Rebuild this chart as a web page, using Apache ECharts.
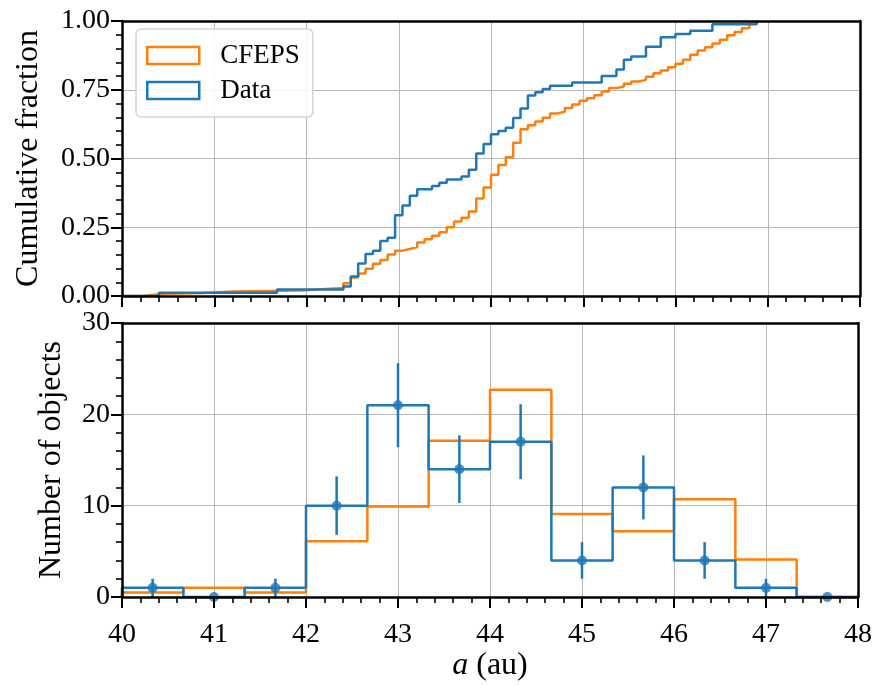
<!DOCTYPE html>
<html>
<head>
<meta charset="utf-8">
<script src="https://cdn.jsdelivr.net/npm/echarts@6/dist/echarts.min.js"></script>
<style>
  html, body { margin: 0; padding: 0; background: #ffffff; }
  #chart { width: 875px; height: 685px; }
</style>
</head>
<body>
<div id="chart"></div>
<script>
// ---- Top panel: cumulative fraction, given as step change points ----
// semi-major axis (au) where each step starts, and the fraction reached there
const cfepsCumA = [40.24, 40.32, 40.48, 40.88, 41.20, 41.76, 42.00, 42.16,
  42.40, 42.48, 42.56, 42.64, 42.72, 42.80, 42.88, 42.96, 43.04, 43.12,
  43.20, 43.28, 43.36, 43.44, 43.52, 43.60, 43.68, 43.76, 43.84, 43.92,
  44.00, 44.08, 44.16, 44.24, 44.32, 44.40, 44.48, 44.56, 44.64, 44.72,
  44.80, 44.88, 44.96, 45.04, 45.12, 45.20, 45.28, 45.36, 45.44, 45.52,
  45.60, 45.68, 45.76, 45.84, 45.92, 46.00, 46.08, 46.16, 46.24, 46.32,
  46.40, 46.48, 46.56, 46.64, 46.72, 46.80, 46.88];
const cfepsCumF = [0.004, 0.008, 0.011, 0.016, 0.019, 0.021, 0.025, 0.029,
  0.046, 0.067, 0.082, 0.099, 0.117, 0.131, 0.151, 0.165, 0.171, 0.178,
  0.195, 0.206, 0.219, 0.232, 0.250, 0.271, 0.285, 0.307, 0.355, 0.395,
  0.441, 0.476, 0.505, 0.557, 0.606, 0.621, 0.635, 0.648, 0.664, 0.670,
  0.684, 0.696, 0.710, 0.719, 0.730, 0.744, 0.756, 0.762, 0.772, 0.780,
  0.786, 0.797, 0.810, 0.820, 0.832, 0.845, 0.859, 0.877, 0.893, 0.905,
  0.918, 0.932, 0.948, 0.960, 0.974, 0.990, 1.000];

const dataCumA = [40.40, 41.68, 42.40, 42.48, 42.56, 42.64, 42.72, 42.80,
  42.88, 42.96, 43.04, 43.12, 43.20, 43.36, 43.44, 43.52, 43.68, 43.76,
  43.84, 43.92, 44.00, 44.08, 44.16, 44.24, 44.32, 44.40, 44.48, 44.56,
  44.64, 44.88, 45.20, 45.36, 45.44, 45.52, 45.68, 45.84, 46.00, 46.16,
  46.40, 46.88];
const dataCumF = [0.012, 0.024, 0.035, 0.071, 0.118, 0.153, 0.165, 0.200,
  0.212, 0.294, 0.329, 0.365, 0.388, 0.400, 0.412, 0.424, 0.435, 0.459,
  0.518, 0.553, 0.588, 0.600, 0.612, 0.647, 0.682, 0.729, 0.741, 0.753,
  0.765, 0.776, 0.800, 0.824, 0.859, 0.871, 0.906, 0.941, 0.953, 0.965,
  0.988, 1.000];

// ---- Bottom panel: histogram of objects per bin ----
const binEdges = [40, 40.667, 41.333, 42, 42.667, 43.333, 44, 44.667, 45.333, 46, 46.667, 47.333, 48];
const binCenters = [40.333, 41, 41.667, 42.333, 43, 43.667, 44.333, 45, 45.667, 46.333, 47, 47.667];
const cfepsCounts = [0.5, 1.0, 0.5, 6.1, 9.9, 17.1, 22.7, 9.1, 7.2, 10.7, 4.1, 0];
const dataCounts = [1, 0, 1, 10, 21, 14, 17, 4, 12, 4, 1, 0];
const dataErrors = [1, 0, 1, 3.2, 4.6, 3.7, 4.1, 2.0, 3.5, 2.0, 1, 0];

// ---- Tick labels ----
const xTickLabels = ['40', '41', '42', '43', '44', '45', '46', '47', '48'];
const cumTickLabels = ['0.00', '0.25', '0.50', '0.75', '1.00'];
const countTickLabels = ['0', '10', '20', '30'];

const ORANGE = '#ff7f0e';
const BLUE = '#1f77b4';
const FONT = 'Liberation Serif';
const TICK_FS = 28;
const NAME_FS = 32;
const LEGEND_FS = 27;
const X_MIN = 40, X_MAX = 48;

// step outline of a cumulative curve, rising from zero
function cumulativePath(a, f) {
  const pts = [[X_MIN, 0]];
  for (let i = 0; i < a.length; i++) pts.push([a[i], f[i]]);
  return pts;
}
// step outline of a histogram with closing verticals at both ends
function histPath(edges, counts) {
  const pts = [[edges[0], 0]];
  for (let i = 0; i < counts.length; i++) pts.push([edges[i], counts[i]]);
  pts.push([edges[edges.length - 1], 0]);
  return pts;
}

const gridStyle = { show: true, lineStyle: { color: '#b8b8b8', width: 1 } };
const tickStyle = { show: true, inside: false, length: 11, lineStyle: { color: '#000', width: 2 } };
const minorStyle = { show: true, splitNumber: 5, length: 6, lineStyle: { color: '#000', width: 1.6 } };
const spine = { show: true, onZero: false, lineStyle: { color: '#000', width: 2.5 } };
const tickFont = { fontFamily: FONT, fontSize: TICK_FS, color: '#000' };
const nameFont = { fontFamily: FONT, fontSize: NAME_FS, color: '#000' };

function xAxes(gridIndex, withLabels) {
  const base = { type: 'value', gridIndex, min: X_MIN, max: X_MAX, interval: 1 };
  return [
    // grid lines only, drawn beneath the curves
    Object.assign({}, base, { axisLine: { show: false }, axisTick: { show: false },
      axisLabel: { show: false }, splitLine: gridStyle, z: 0 }),
    // bottom spine with ticks and labels
    Object.assign({}, base, { position: 'bottom', axisLine: spine, axisTick: tickStyle,
      minorTick: minorStyle, splitLine: { show: false }, z: 10,
      axisLabel: Object.assign({ show: withLabels, margin: 24,
        formatter: v => xTickLabels[Math.round(v - X_MIN)] }, tickFont),
      name: withLabels ? '{i|a} (au)' : '', nameLocation: 'middle', nameGap: 50,
      nameTextStyle: Object.assign({}, nameFont, { rich: { i: Object.assign({ fontStyle: 'italic' }, nameFont) } }) }),
    // top spine
    Object.assign({}, base, { position: 'top', axisLine: spine, axisTick: { show: false },
      axisLabel: { show: false }, splitLine: { show: false }, z: 10 })
  ];
}

function yAxes(gridIndex, max, interval, labels, name, nameGap) {
  const base = { type: 'value', gridIndex, min: 0, max, interval };
  return [
    Object.assign({}, base, { axisLine: { show: false }, axisTick: { show: false },
      axisLabel: { show: false }, splitLine: gridStyle, z: 0 }),
    Object.assign({}, base, { position: 'left', axisLine: spine, axisTick: tickStyle,
      minorTick: minorStyle, splitLine: { show: false }, z: 10,
      axisLabel: Object.assign({ margin: 12,
        formatter: v => labels[Math.round(v / interval)] }, tickFont),
      name, nameLocation: 'middle', nameGap, nameTextStyle: nameFont }),
    Object.assign({}, base, { position: 'right', axisLine: spine, axisTick: { show: false },
      axisLabel: { show: false }, splitLine: { show: false }, z: 10 })
  ];
}

const chart = echarts.init(document.getElementById('chart'), null, { renderer: 'canvas' });

chart.setOption({
  animation: false,
  backgroundColor: '#ffffff',
  grid: [
    { left: 122, top: 21, width: 738, height: 275 },
    { left: 122, top: 323, width: 738, height: 274 }
  ],
  xAxis: xAxes(0, false).concat(xAxes(1, true)),
  yAxis: yAxes(0, 1, 0.25, cumTickLabels, 'Cumulative fraction', 77)
    .concat(yAxes(1, 30, 10, countTickLabels, 'Number of objects', 54)),
  legend: {
    left: 136, top: 29,
    orient: 'vertical',
    icon: 'rect',
    itemWidth: 52, itemHeight: 17, itemGap: 8,
    padding: [13, 13, 13, 10],
    backgroundColor: 'rgba(255,255,255,0.85)',
    borderColor: '#d4d4d4', borderWidth: 1.5, borderRadius: 5,
    textStyle: { fontFamily: FONT, fontSize: LEGEND_FS, color: '#000', padding: [0, 0, 0, 16] },
    data: [
      { name: 'CFEPS', itemStyle: { color: 'rgba(255,255,255,0)', borderColor: ORANGE, borderWidth: 2.5 } },
      { name: 'Data', itemStyle: { color: 'rgba(255,255,255,0)', borderColor: BLUE, borderWidth: 2.5 } }
    ]
  },
  series: [
    { name: 'CFEPS', type: 'line', step: 'end', xAxisIndex: 1, yAxisIndex: 1,
      data: cumulativePath(cfepsCumA, cfepsCumF), showSymbol: false, symbol: 'none',
      lineStyle: { color: ORANGE, width: 2.5 }, itemStyle: { color: ORANGE }, z: 2 },
    { name: 'Data', type: 'line', step: 'end', xAxisIndex: 1, yAxisIndex: 1,
      data: cumulativePath(dataCumA, dataCumF), showSymbol: false, symbol: 'none',
      lineStyle: { color: BLUE, width: 2.5 }, itemStyle: { color: BLUE }, z: 3 },

    { name: 'CFEPS hist', type: 'line', step: 'end', xAxisIndex: 4, yAxisIndex: 4,
      data: histPath(binEdges, cfepsCounts), showSymbol: false, symbol: 'none',
      lineStyle: { color: ORANGE, width: 2.5 }, z: 2 },
    { name: 'Data hist', type: 'line', step: 'end', xAxisIndex: 4, yAxisIndex: 4,
      data: histPath(binEdges, dataCounts), showSymbol: false, symbol: 'none',
      lineStyle: { color: BLUE, width: 2.5 }, z: 3 },
    { name: 'Data errors', type: 'custom', xAxisIndex: 4, yAxisIndex: 4, z: 4,
      data: binCenters.map((c, i) => [c, dataCounts[i] - dataErrors[i], dataCounts[i] + dataErrors[i]]),
      renderItem: (params, api) => {
        const p1 = api.coord([api.value(0), api.value(1)]);
        const p2 = api.coord([api.value(0), api.value(2)]);
        return { type: 'line', shape: { x1: p1[0], y1: p1[1], x2: p2[0], y2: p2[1] },
          style: { stroke: BLUE, lineWidth: 2.5 } };
      } },
    { name: 'Data points', type: 'scatter', xAxisIndex: 4, yAxisIndex: 4, z: 5, clip: true,
      data: binCenters.map((c, i) => [c, dataCounts[i]]),
      symbol: 'circle', symbolSize: 10, itemStyle: { color: BLUE } }
  ]
});
</script>
</body>
</html>
